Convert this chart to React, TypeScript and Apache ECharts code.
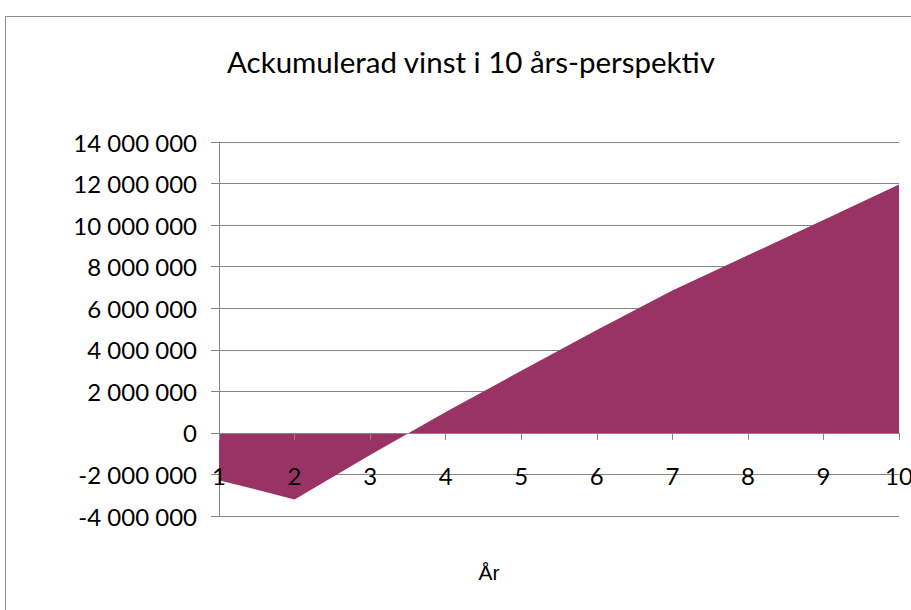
import React, { useEffect, useRef } from "react";
import * as echarts from "echarts";

const years = ["1", "2", "3", "4", "5", "6", "7", "8", "9", "10"];
const accumulatedProfit = [
  -2280000, -3200000, -1060000, 1000000, 2990000, 4950000, 6850000, 8550000,
  10250000, 11950000,
];
const titleText = "Ackumulerad vinst i 10 års-perspektiv";
const xAxisTitle = "År";

const fmt = (v: number) =>
  String(v).replace(/\B(?=(\d{3})+(?!\d))/g, " ");

export default function App() {
  const ref = useRef<HTMLDivElement>(null);
  useEffect(() => {
    if (!ref.current) return;
    const chart = echarts.init(ref.current, null, { renderer: "svg" });
    chart.setOption({
      animation: false,
      backgroundColor: "#ffffff",
      title: {
        text: titleText,
        left: 466,
        textAlign: "center",
        top: 41,
        textStyle: {
          fontFamily: "Lato",
          fontWeight: "normal",
          fontSize: 29.5,
          color: "#000",
        },
      },
      graphic: [
        {
          type: "line",
          shape: { x1: 5.5, y1: 16.5, x2: 911, y2: 16.5 },
          style: { stroke: "#8c8c8c", lineWidth: 1 },
          silent: true,
        },
        {
          type: "line",
          shape: { x1: 5.5, y1: 16.5, x2: 5.5, y2: 610 },
          style: { stroke: "#8c8c8c", lineWidth: 1 },
          silent: true,
        },
        {
          type: "text",
          x: 489,
          y: 572,
          style: {
            text: xAxisTitle,
            fontFamily: "Liberation Sans",
            fontSize: 21,
            fill: "#000",
            textAlign: "center",
            textVerticalAlign: "middle",
          },
        },
      ],
      grid: {
        left: 219,
        right: 12,
        top: 142,
        bottom: 94,
        containLabel: false,
        outerBoundsMode: "none",
      },
      xAxis: {
        type: "category",
        z: 10,
        data: years,
        boundaryGap: false,
        axisLine: { onZero: true, lineStyle: { color: "#868686", width: 1 } },
        axisTick: { show: true, length: 7, alignWithLabel: true, lineStyle: { color: "#868686" } },
        axisLabel: {
          margin: -53,
          fontFamily: "Lato",
          fontSize: 24,
          color: "#000",
        },
        splitLine: { show: false },
      },
      yAxis: {
        type: "value",
        min: -4000000,
        max: 14000000,
        interval: 2000000,
        axisLine: { show: true, lineStyle: { color: "#868686", width: 1 } },
        axisTick: { show: true, length: 8, lineStyle: { color: "#868686" } },
        axisLabel: {
          margin: 22,
          fontFamily: "Lato",
          fontSize: 24,
          color: "#000",
          formatter: (v: number) => fmt(v),
        },
        splitLine: { show: true, lineStyle: { color: "#868686", width: 1 } },
      },
      series: [
        {
          type: "line",
          data: accumulatedProfit,
          symbol: "none",
          lineStyle: { width: 0 },
          areaStyle: { color: "#993366", opacity: 1 },
          itemStyle: { color: "#993366" },
        },
      ],
    });
    return () => chart.dispose();
  }, []);
  return (
    <div
      ref={ref}
      style={{ position: "absolute", left: 0, top: 0, width: 911, height: 610 }}
    />
  );
}
